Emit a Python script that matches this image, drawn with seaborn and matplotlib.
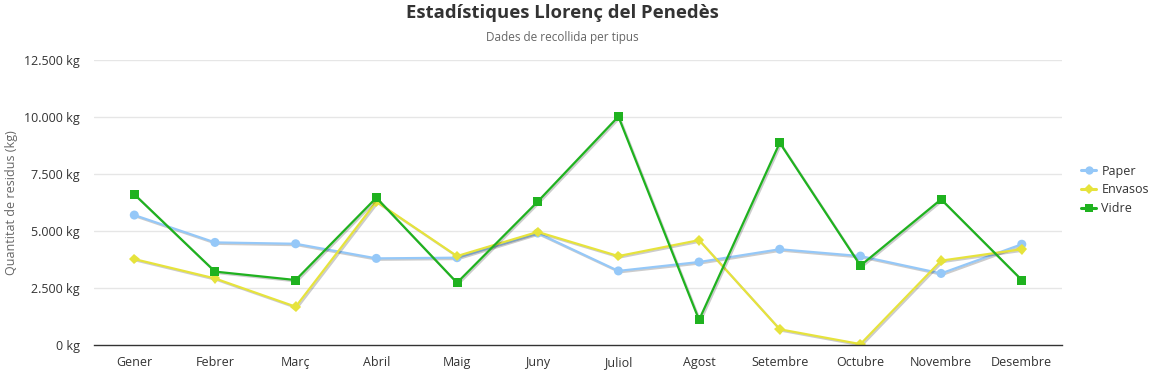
import pandas as pd
import matplotlib
matplotlib.use('Agg')
import matplotlib.pyplot as plt
import matplotlib.patheffects as pe
import seaborn as sns
from matplotlib.ticker import FuncFormatter
from matplotlib.lines import Line2D

# Dades llegides del gràfic (kg per mes)
mesos = ['Gener', 'Febrer', 'Març', 'Abril', 'Maig', 'Juny', 'Juliol', 'Agost',
         'Setembre', 'Octubre', 'Novembre', 'Desembre']
paper = [5700, 4500, 4440, 3800, 3830, 4910, 3250, 3640, 4200, 3900, 3140, 4420]
envasos = [3770, 2920, 1680, 6290, 3900, 4960, 3900, 4600, 690, 40, 3700, 4200]
vidre = [6610, 3220, 2850, 6460, 2730, 6290, 10020, 1100, 8870, 3480, 6390, 2850]

colors = {'Paper': '#95C8F8', 'Envasos': '#E6E33C', 'Vidre': '#1FB21F'}
markers = {'Paper': 'o', 'Envasos': 'D', 'Vidre': 's'}

df = pd.DataFrame({
    'Mes': mesos * 3,
    'Kg': paper + envasos + vidre,
    'Tipus': ['Paper'] * 12 + ['Envasos'] * 12 + ['Vidre'] * 12,
})

sns.set_style('white')
plt.rcParams['font.family'] = ['Open Sans', 'DejaVu Sans']

fig = plt.figure(figsize=(11.57, 3.76), dpi=100)
ax = fig.add_axes([0.0812, 0.0824, 0.8368, 0.758])

# gridlines
for v in range(2500, 12501, 2500):
    ax.axhline(v, color='#e6e6e6', lw=1, zorder=0)

shadow = [pe.SimpleLineShadow(offset=(1, -1), shadow_color='#000000', alpha=0.2, rho=0.5), pe.Normal()]

sns.lineplot(data=df, x='Mes', y='Kg', hue='Tipus', style='Tipus',
             palette=colors, markers=markers, dashes=False, sort=False,
             linewidth=1.6, markersize=6.5, markeredgewidth=0, ax=ax, legend=False)
for line in ax.lines:
    if line.get_marker() in ('o', 'D', 's'):
        line.set_path_effects(shadow)
    if line.get_marker() == 'D':
        line.set_markersize(5.5)

ax.set_xlim(-0.5, 11.5)
ax.set_ylim(0, 12500)
ax.set_yticks(range(0, 12501, 2500))
ax.yaxis.set_major_formatter(FuncFormatter(lambda v, p: f'{int(v):,} kg'.replace(',', '.')))
ax.tick_params(axis='both', length=0, labelsize=9, colors='#333333')
ax.tick_params(axis='y', pad=10)
ax.tick_params(axis='x', pad=8)
for s in ['top', 'right', 'left']:
    ax.spines[s].set_visible(False)
ax.spines['bottom'].set_color('#333333')
ax.spines['bottom'].set_linewidth(1)
ax.set_xlabel('')
ax.set_ylabel('Quantitat de residus (kg)', fontsize=9, color='#666666')
ax.yaxis.set_label_coords(-0.078, 0.5)

fig.text(0.486, 0.965, 'Estadístiques Llorenç del Penedès', ha='center', va='center',
         fontsize=13.3, fontweight='bold', color='#333333')
fig.text(0.486, 0.9, 'Dades de recollida per tipus', ha='center', va='center',
         fontsize=8.5, color='#666666')

# legend
handles = [Line2D([0], [0], color=colors[k], marker=markers[k], lw=2.2,
                  markersize=6 if k != 'Envasos' else 5, markeredgewidth=0)
           for k in ['Paper', 'Envasos', 'Vidre']]
leg = fig.legend(handles, ['Paper', 'Envasos', 'Vidre'], loc='center left',
                 bbox_to_anchor=(0.925, 0.495), frameon=False, fontsize=9,
                 handlelength=1.2, handletextpad=0.4, labelspacing=0.45)
for t in leg.get_texts():
    t.set_color('#333333')

fig.savefig('out.png', dpi=100)
